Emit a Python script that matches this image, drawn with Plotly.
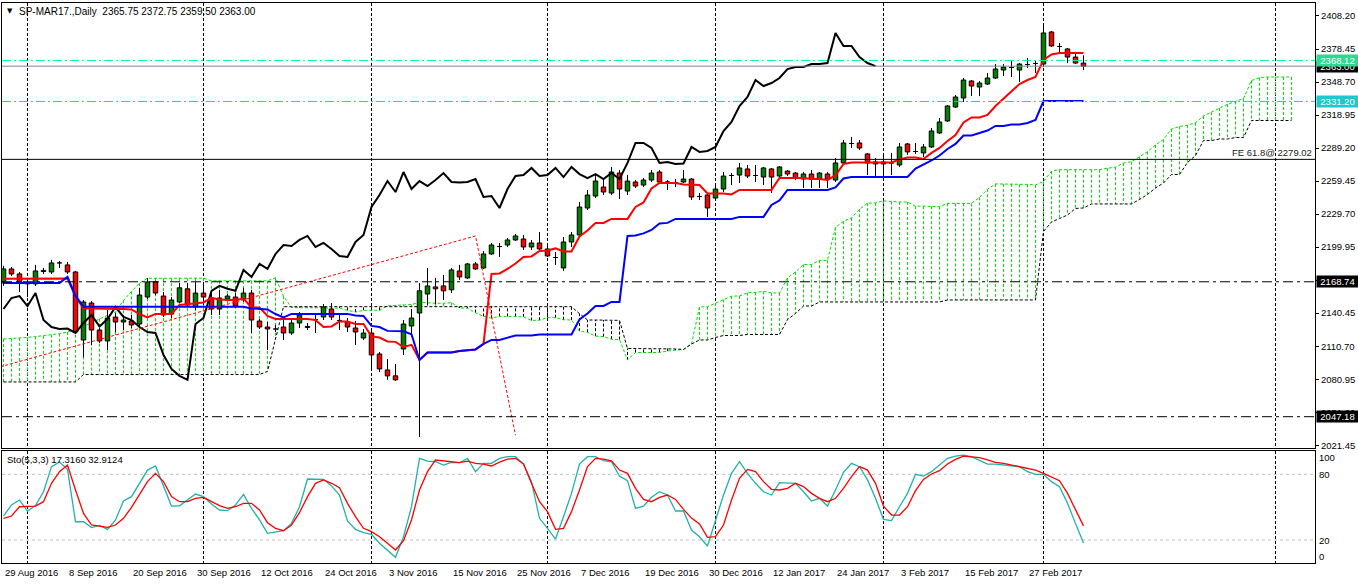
import plotly.graph_objects as go

# ---------------- data ----------------
symbol_title = "SP-MAR17.,Daily"
last_ohlc = ["2365.75", "2372.75", "2359.50", "2363.00"]

x_labels = ["29 Aug 2016", "8 Sep 2016", "20 Sep 2016", "30 Sep 2016", "12 Oct 2016",
            "24 Oct 2016", "3 Nov 2016", "15 Nov 2016", "25 Nov 2016", "7 Dec 2016",
            "19 Dec 2016", "30 Dec 2016", "12 Jan 2017", "24 Jan 2017", "3 Feb 2017",
            "15 Feb 2017", "27 Feb 2017"]
x_label_bars = [0, 8, 16, 24, 32, 40, 48, 56, 64, 72, 80, 88, 96, 104, 112, 120, 128]
month_bars = [3, 25, 46, 68, 89, 110, 130, 159]

price_ticks = [2021.45, 2051.20, 2080.95, 2110.70, 2140.45, 2170.20, 2199.95, 2229.70,
               2259.45, 2289.20, 2318.95, 2348.70, 2378.45, 2408.20]

opens = [2167.7, 2180.3, 2175.8, 2167.7, 2166.8, 2178.0, 2177.6, 2185.7, 2183.9, 2177.6,
         2116.3, 2149.6, 2125.3, 2115.4, 2137.0, 2132.5, 2133.4, 2130.7, 2155.0, 2168.6,
         2155.9, 2139.7, 2150.5, 2162.4, 2146.0, 2158.6, 2154.1, 2144.2, 2153.2, 2155.0,
         2153.2, 2158.6, 2133.4, 2128.0, 2126.2, 2128.0, 2122.6, 2131.6, 2127.6, 2134.7,
         2137.0, 2144.2, 2133.9, 2132.5, 2127.1, 2118.1, 2122.6, 2103.7, 2089.3, 2084.0,
         2108.2, 2128.9, 2140.6, 2157.7, 2164.1, 2165.0, 2161.5, 2178.5, 2172.2, 2184.8,
         2181.2, 2193.8, 2200.5, 2201.9, 2206.4, 2207.3, 2200.1, 2203.7, 2198.3, 2190.6,
         2181.2, 2204.6, 2210.9, 2235.2, 2246.0, 2254.1, 2248.7, 2266.7, 2250.5, 2258.6,
         2255.9, 2260.4, 2267.6, 2258.6, 2258.2, 2258.6, 2261.3, 2245.6, 2246.9, 2244.2,
         2252.3, 2264.5, 2264.9, 2270.4, 2264.5, 2263.1, 2270.4, 2264.0, 2268.5, 2266.7,
         2261.3, 2265.8, 2261.3, 2265.8, 2260.4, 2275.8, 2293.3, 2293.8, 2283.9, 2274.9,
         2276.7, 2275.8, 2274.0, 2292.9, 2286.1, 2284.8, 2290.2, 2302.8, 2313.6, 2326.2,
         2334.3, 2349.6, 2344.2, 2346.9, 2352.3, 2359.5, 2361.8, 2359.5, 2364.5, 2365.4,
         2364.9, 2393.8, 2380.7, 2378.5, 2371.2, 2365.75]
highs = [2183.0, 2182.1, 2177.6, 2170.4, 2183.9, 2181.2, 2188.4, 2187.5, 2186.6, 2178.5,
         2152.3, 2151.4, 2127.1, 2143.3, 2140.6, 2138.8, 2138.8, 2163.3, 2172.2, 2169.5,
         2159.5, 2155.0, 2167.7, 2167.7, 2168.6, 2168.6, 2159.5, 2161.5, 2157.7, 2158.6,
         2163.3, 2161.5, 2135.2, 2132.5, 2129.8, 2134.3, 2136.1, 2141.5, 2131.6, 2138.8,
         2148.7, 2149.6, 2140.6, 2136.1, 2133.4, 2126.2, 2125.3, 2105.5, 2099.1, 2094.7,
         2134.3, 2144.2, 2167.7, 2181.2, 2172.2, 2174.9, 2181.2, 2183.9, 2185.7, 2186.6,
         2196.5, 2203.7, 2203.7, 2208.2, 2211.8, 2210.9, 2206.4, 2213.6, 2203.7, 2195.6,
         2209.1, 2213.6, 2240.6, 2251.4, 2264.9, 2260.4, 2272.2, 2269.4, 2264.9, 2260.4,
         2262.2, 2269.4, 2269.4, 2260.4, 2261.3, 2269.4, 2262.2, 2248.7, 2248.7, 2255.9,
         2267.6, 2266.7, 2275.8, 2274.0, 2274.0, 2272.2, 2271.3, 2273.0, 2269.4, 2267.6,
         2267.6, 2269.4, 2267.6, 2267.6, 2280.3, 2296.5, 2299.2, 2296.5, 2284.8, 2280.3,
         2284.8, 2284.8, 2293.8, 2293.8, 2293.8, 2292.9, 2307.3, 2316.3, 2328.0, 2337.0,
         2352.3, 2350.5, 2349.6, 2356.8, 2364.9, 2364.9, 2367.6, 2365.8, 2370.3, 2368.5,
         2401.0, 2394.7, 2383.9, 2379.4, 2375.8, 2372.75]
lows = [2165.0, 2174.0, 2159.5, 2155.0, 2165.0, 2175.8, 2175.8, 2181.2, 2175.8, 2122.6,
        2100.9, 2111.8, 2113.6, 2107.3, 2123.5, 2125.3, 2127.1, 2128.0, 2153.2, 2156.8,
        2137.0, 2136.1, 2149.6, 2146.0, 2143.3, 2147.8, 2138.8, 2138.8, 2151.4, 2145.1,
        2150.5, 2122.6, 2126.2, 2107.3, 2123.5, 2116.3, 2120.8, 2127.1, 2125.3, 2122.6,
        2134.3, 2134.3, 2125.3, 2123.5, 2111.8, 2116.3, 2089.3, 2087.4, 2080.4, 2079.5,
        2102.8, 2119.0, 2028.9, 2147.8, 2148.7, 2152.3, 2158.6, 2170.4, 2171.3, 2179.4,
        2180.3, 2192.9, 2191.1, 2200.1, 2205.5, 2197.4, 2197.4, 2197.4, 2191.1, 2183.9,
        2178.5, 2200.1, 2208.2, 2233.4, 2244.2, 2246.9, 2246.9, 2243.3, 2246.9, 2253.2,
        2254.1, 2258.6, 2257.7, 2251.4, 2254.1, 2257.7, 2242.4, 2242.4, 2227.1, 2242.4,
        2249.6, 2255.9, 2257.7, 2262.2, 2258.6, 2255.9, 2248.7, 2262.2, 2264.0, 2260.4,
        2253.2, 2253.2, 2253.2, 2253.2, 2258.6, 2274.0, 2289.3, 2287.5, 2264.9, 2262.2,
        2263.1, 2264.9, 2272.2, 2283.0, 2283.9, 2281.2, 2289.3, 2302.0, 2312.7, 2325.5,
        2330.7, 2336.1, 2336.1, 2346.0, 2351.4, 2354.1, 2353.2, 2348.7, 2361.3, 2356.8,
        2362.2, 2380.3, 2375.8, 2365.8, 2364.9, 2359.5]
closes = [2180.3, 2175.8, 2168.6, 2166.8, 2178.5, 2179.0, 2185.7, 2185.3, 2177.6, 2123.5,
          2150.5, 2125.3, 2115.4, 2136.1, 2132.5, 2134.3, 2129.8, 2156.8, 2168.6, 2158.6,
          2138.8, 2152.3, 2163.3, 2147.8, 2158.6, 2155.0, 2144.2, 2154.1, 2155.9, 2146.9,
          2158.6, 2134.3, 2128.0, 2126.2, 2126.6, 2122.6, 2131.6, 2138.8, 2128.5, 2135.2,
          2146.0, 2137.0, 2134.3, 2128.0, 2123.5, 2122.6, 2102.8, 2090.2, 2084.0, 2080.4,
          2130.7, 2136.1, 2160.6, 2165.0, 2162.4, 2160.6, 2179.4, 2173.1, 2184.8, 2180.3,
          2193.8, 2201.9, 2201.0, 2206.4, 2210.0, 2200.1, 2203.7, 2198.3, 2192.0, 2191.1,
          2204.6, 2210.9, 2236.1, 2246.9, 2259.5, 2249.6, 2267.6, 2252.3, 2259.5, 2255.0,
          2260.4, 2266.7, 2258.6, 2258.2, 2258.6, 2261.3, 2245.1, 2246.0, 2235.2, 2252.3,
          2264.0, 2264.9, 2271.3, 2264.0, 2264.9, 2271.3, 2263.1, 2272.2, 2265.8, 2262.2,
          2265.8, 2261.3, 2266.7, 2261.3, 2275.8, 2293.8, 2293.8, 2289.3, 2275.8, 2276.7,
          2274.9, 2275.3, 2290.2, 2285.7, 2286.6, 2290.2, 2304.6, 2312.7, 2327.1, 2335.2,
          2350.5, 2345.1, 2347.8, 2352.3, 2360.4, 2362.2, 2362.2, 2364.9, 2364.9, 2365.8,
          2392.9, 2381.2, 2381.2, 2371.2, 2365.8, 2363.0]

tenkan = [2171.5, 2171.5, 2171.5, 2171.5, 2171.5, 2171.5, 2171.5, 2171.5, 2171.7, 2155.5,
          2144.7, 2144.7, 2144.7, 2144.7, 2144.7, 2144.2, 2143.8, 2139.7, 2136.6, 2139.8,
          2139.8, 2139.8, 2147.9, 2148.8, 2149.7, 2150.1, 2154.2, 2152.8, 2152.4, 2152.4,
          2153.7, 2145.6, 2145.6, 2138.0, 2135.3, 2135.3, 2135.3, 2135.3, 2135.3, 2134.4,
          2128.0, 2128.5, 2133.0, 2133.0, 2130.7, 2130.7, 2119.5, 2118.5, 2115.0, 2114.6,
          2110.0, 2111.9, 2098.3, 2105.0, 2105.0, 2105.0, 2105.0, 2106.4, 2107.3, 2107.8,
          2112.7, 2175.8, 2176.2, 2180.3, 2185.2, 2191.1, 2191.6, 2196.5, 2197.0, 2198.8,
          2196.1, 2196.1, 2209.6, 2215.0, 2221.7, 2221.7, 2225.4, 2225.4, 2225.4, 2236.2,
          2240.2, 2252.8, 2257.8, 2257.8, 2257.8, 2256.4, 2255.9, 2255.9, 2248.3, 2248.3,
          2248.3, 2247.4, 2251.5, 2251.5, 2251.5, 2251.5, 2251.5, 2262.3, 2262.3, 2262.3,
          2262.3, 2261.4, 2261.4, 2260.5, 2264.5, 2274.9, 2276.2, 2276.2, 2276.2, 2276.2,
          2276.2, 2276.2, 2278.9, 2280.7, 2280.7, 2279.4, 2284.8, 2289.3, 2295.6, 2301.0,
          2312.3, 2316.8, 2316.8, 2319.0, 2327.1, 2333.9, 2340.2, 2346.9, 2350.5, 2353.2,
          2368.6, 2373.5, 2374.9, 2374.9, 2374.9, 2374.9]
kijun = [2167.7, 2167.7, 2167.7, 2167.7, 2167.7, 2167.7, 2167.7, 2167.7, 2173.1, 2156.0,
         2146.3, 2146.3, 2146.3, 2146.3, 2146.3, 2146.3, 2146.3, 2146.3, 2146.3, 2146.3,
         2146.3, 2146.3, 2146.3, 2146.3, 2146.3, 2146.3, 2146.3, 2146.3, 2146.3, 2146.3,
         2146.3, 2144.7, 2144.2, 2143.8, 2139.7, 2136.6, 2139.8, 2139.8, 2139.8, 2139.8,
         2139.8, 2139.8, 2139.8, 2139.8, 2138.4, 2138.0, 2129.0, 2128.0, 2124.5, 2124.1,
         2124.1, 2121.4, 2098.3, 2105.1, 2105.1, 2105.1, 2105.1, 2106.4, 2107.3, 2107.8,
         2112.7, 2116.3, 2116.3, 2118.6, 2120.4, 2120.4, 2120.4, 2121.3, 2121.3, 2121.3,
         2121.3, 2121.3, 2134.8, 2140.2, 2146.9, 2146.9, 2150.6, 2150.6, 2210.0, 2210.5,
         2212.3, 2215.4, 2221.3, 2221.8, 2225.4, 2225.4, 2225.4, 2225.4, 2225.4, 2225.4,
         2225.4, 2225.4, 2227.2, 2227.2, 2227.2, 2227.2, 2238.0, 2242.0, 2251.5, 2251.5,
         2251.5, 2251.5, 2251.5, 2251.5, 2253.7, 2261.8, 2263.2, 2263.2, 2263.2, 2263.2,
         2263.2, 2263.2, 2263.2, 2263.2, 2270.8, 2274.4, 2278.0, 2282.5, 2288.4, 2292.9,
         2300.5, 2300.5, 2302.8, 2305.0, 2309.1, 2309.1, 2310.4, 2310.4, 2311.8, 2314.5,
         2331.6, 2331.6, 2331.6, 2331.6, 2331.6, 2331.6]
span_a = [2117.2, 2117.5, 2118.1, 2118.7, 2119.3, 2120.0, 2121.0, 2122.0, 2123.5, 2125.5,
          2128.5, 2132.0, 2135.5, 2138.5, 2141.5, 2152.0, 2160.0, 2167.5, 2171.9, 2172.0,
          2172.0, 2172.0, 2172.0, 2172.0, 2172.0, 2172.0, 2169.6, 2169.6, 2169.6, 2169.6,
          2169.6, 2169.6, 2169.6, 2169.6, 2172.4, 2155.75, 2145.5, 2145.5, 2145.5, 2145.5,
          2145.5, 2145.25, 2145.05, 2143.0, 2141.45, 2143.05, 2143.05, 2143.05, 2147.1, 2147.55,
          2148.0, 2148.2, 2150.25, 2149.55, 2149.35, 2149.35, 2150.0, 2145.15, 2144.9, 2140.9,
          2137.5, 2135.95, 2137.55, 2137.55, 2137.55, 2137.1, 2133.9, 2134.15, 2136.4, 2136.4,
          2134.55, 2134.35, 2124.25, 2123.25, 2119.75, 2119.35, 2117.05, 2116.65, 2098.3, 2105.05,
          2105.05, 2105.05, 2105.05, 2106.4, 2107.3, 2107.8, 2112.7, 2146.05, 2146.25, 2149.45,
          2152.8, 2155.75, 2156.0, 2158.9, 2159.15, 2160.05, 2158.7, 2158.7, 2172.2, 2177.6,
          2184.3, 2184.3, 2188.0, 2188.0, 2217.7, 2223.35, 2226.25, 2234.1, 2239.55, 2239.8,
          2241.6, 2240.9, 2240.65, 2240.65, 2236.85, 2236.85, 2236.85, 2236.4, 2239.35, 2239.35,
          2239.35, 2239.35, 2244.75, 2252.15, 2256.9, 2256.9, 2256.9, 2256.45, 2256.45, 2256.0,
          2259.1, 2268.35, 2269.7, 2269.7, 2269.7, 2269.7, 2269.7, 2269.7, 2271.05, 2271.95,
          2275.75, 2276.9, 2281.4, 2285.9, 2292.0, 2296.95, 2306.4, 2308.65, 2309.8, 2312.0,
          2318.1, 2321.5, 2325.3, 2328.65, 2331.15, 2333.85, 2350.1, 2352.55, 2353.25, 2353.25,
          2353.25, 2353.25]
span_b = [2078.5, 2078.5, 2078.5, 2078.5, 2078.5, 2078.5, 2078.5, 2078.5, 2078.5, 2078.5,
          2085.2, 2085.2, 2085.2, 2085.2, 2085.2, 2085.2, 2085.2, 2085.2, 2085.2, 2085.2,
          2085.2, 2085.2, 2085.2, 2085.2, 2085.2, 2085.2, 2085.2, 2085.2, 2085.2, 2085.2,
          2085.2, 2085.2, 2085.2, 2088.0, 2117.0, 2146.3, 2146.3, 2146.3, 2146.3, 2146.3,
          2146.3, 2146.3, 2146.3, 2146.3, 2146.3, 2146.3, 2146.3, 2146.3, 2146.3, 2146.3,
          2146.3, 2146.3, 2146.3, 2146.3, 2146.3, 2146.3, 2146.3, 2146.3, 2146.3, 2146.3,
          2146.3, 2146.3, 2146.3, 2146.3, 2146.3, 2146.3, 2146.3, 2146.3, 2146.3, 2146.3,
          2146.3, 2146.3, 2140.0, 2134.3, 2134.3, 2134.3, 2134.3, 2133.95, 2108.65, 2108.65,
          2108.65, 2108.65, 2108.65, 2108.65, 2108.2, 2107.75, 2112.7, 2116.3, 2116.3, 2118.55,
          2120.35, 2120.35, 2120.35, 2121.25, 2121.25, 2121.25, 2121.25, 2121.25, 2134.75, 2140.15,
          2146.9, 2146.9, 2150.55, 2150.55, 2150.55, 2150.55, 2150.55, 2150.55, 2150.55, 2150.55,
          2150.55, 2150.55, 2150.55, 2150.55, 2150.55, 2150.55, 2150.55, 2150.55, 2152.35, 2152.35,
          2152.35, 2152.35, 2152.35, 2152.35, 2152.35, 2152.35, 2152.35, 2152.35, 2152.35, 2152.35,
          2214.05, 2222.6, 2225.75, 2228.9, 2234.8, 2235.25, 2238.85, 2238.85, 2238.85, 2238.85,
          2238.85, 2238.85, 2242.9, 2247.4, 2253.25, 2257.75, 2265.4, 2265.4, 2276.2, 2282.5,
          2296.0, 2296.0, 2297.35, 2297.35, 2298.7, 2298.7, 2314.05, 2314.05, 2314.05, 2314.05,
          2314.05, 2314.05]
chikou_shift = 26

stoch_k = [41.9, 52.0, 56.5, 46.4, 51.4, 64.1, 87.0, 91.2, 84.5, 36.7,
           36.7, 31.3, 33.4, 29.7, 38.3, 55.6, 59.6, 72.4, 83.9, 87.6,
           68.7, 51.0, 51.3, 56.5, 62.0, 59.6, 52.9, 47.4, 46.8, 52.0,
           61.7, 48.9, 38.3, 26.1, 27.3, 28.5, 35.2, 50.4, 75.7, 75.4,
           75.4, 69.4, 61.1, 37.4, 29.7, 26.7, 25.2, 17.0, 10.3, 4.2,
           23.0, 50.4, 94.6, 92.1, 91.5, 88.5, 90.9, 90.6, 94.6, 82.4,
           90.0, 90.0, 94.6, 96.1, 96.1, 89.4, 73.3, 39.8, 30.7, 20.9,
           41.3, 62.6, 89.4, 96.1, 96.1, 92.4, 91.5, 78.5, 74.2, 48.9,
           51.0, 59.0, 64.1, 61.1, 46.5, 46.5, 29.1, 23.0, 14.5, 38.3,
           61.1, 80.9, 91.5, 80.9, 71.8, 64.1, 61.1, 72.4, 71.8, 71.8,
           64.1, 55.6, 58.1, 51.0, 65.7, 81.8, 90.0, 87.0, 74.9, 58.1,
           38.9, 37.7, 50.4, 62.6, 80.0, 78.4, 82.4, 88.5, 94.6, 96.7,
           97.6, 96.1, 92.4, 89.4, 89.4, 88.5, 87.5, 87.0, 82.4, 80.0,
           80.0, 73.3, 68.7, 53.5, 35.2, 17.316]
stoch_d = [39.8, 41.9, 50.4, 51.0, 51.0, 55.0, 71.8, 82.4, 88.5, 65.7,
           44.3, 33.7, 32.8, 31.6, 33.7, 39.8, 49.8, 61.1, 73.3, 80.9,
           73.3, 59.6, 55.0, 55.0, 58.1, 59.0, 55.0, 51.4, 48.9, 50.4,
           53.5, 53.5, 47.4, 35.8, 30.7, 28.5, 33.7, 45.0, 59.6, 71.8,
           74.9, 71.8, 67.8, 53.5, 41.3, 30.7, 27.6, 23.0, 17.0, 10.9,
           19.4, 38.3, 65.7, 82.4, 93.1, 92.1, 91.2, 90.6, 92.1, 90.0,
           89.4, 87.6, 91.2, 93.9, 94.6, 89.4, 71.8, 55.0, 45.9, 29.7,
           30.7, 45.9, 65.7, 87.0, 94.6, 93.9, 92.4, 83.9, 80.9, 67.2,
           57.0, 55.0, 59.0, 61.1, 57.1, 48.0, 40.0, 34.6, 22.4, 23.0,
           33.7, 56.5, 76.3, 84.5, 82.4, 73.3, 66.3, 65.7, 67.2, 71.8,
           68.8, 62.6, 58.1, 55.0, 58.1, 67.2, 77.9, 87.0, 83.9, 71.8,
           51.0, 42.8, 42.8, 50.4, 65.1, 75.4, 80.3, 83.3, 89.4, 93.6,
           96.7, 96.1, 95.2, 93.1, 91.0, 90.0, 88.5, 87.0, 85.4, 83.9,
           80.9, 77.9, 74.2, 62.6, 47.4, 32.9124]
stoch_levels = [20, 80]
stoch_label_vals = [100, 80, 20, 0]

fe_bars = [-1, 59, 64]
fe_prices = [2091.0, 2210.0, 2030.5]
fe_level = 2279.02
line_green = 2368.12
line_bid = 2363.00
line_cyan = 2331.20
line_black = [2168.74, 2047.18]

n = len(closes)
assert len(opens) == n and len(highs) == n and len(lows) == n
assert len(tenkan) == n and len(kijun) == n
assert len(stoch_k) == n and len(stoch_d) == n
assert len(span_a) == len(span_b) == n + chikou_shift

FONT = "Liberation Sans"
FS = 9.5

fig = go.Figure()

# ---- cloud hatch (vertical dotted lines every bar) ----
gx, gy, kx, ky = [], [], [], []
for j, (a, b) in enumerate(zip(span_a, span_b)):
    if a >= b:
        gx += [j, j, None]; gy += [a, b, None]
    else:
        kx += [j, j, None]; ky += [a, b, None]
fig.add_trace(go.Scatter(x=gx, y=gy, mode="lines", hoverinfo="skip",
                         line=dict(color="#00e000", width=1, dash="3px,2px")))
fig.add_trace(go.Scatter(x=kx, y=ky, mode="lines", hoverinfo="skip",
                         line=dict(color="#000000", width=1, dash="3px,2px")))
cx = list(range(len(span_a)))
fig.add_trace(go.Scatter(x=cx, y=span_a, mode="lines", hoverinfo="skip",
                         line=dict(color="#00e000", width=1, dash="3px,2px")))
fig.add_trace(go.Scatter(x=cx, y=span_b, mode="lines", hoverinfo="skip",
                         line=dict(color="#000000", width=1, dash="3px,2px")))

# ---- candles ----
wx, wy = [], []
for i in range(n):
    wx += [i, i, None]; wy += [lows[i], highs[i], None]
fig.add_trace(go.Scatter(x=wx, y=wy, mode="lines", hoverinfo="skip",
                         line=dict(color="black", width=1)))
half = 0.28
def bodies(up):
    xs, ys = [], []
    for i in range(n):
        o, c = opens[i], closes[i]
        if (c >= o) == up:
            xs += [i - half, i + half, i + half, i - half, i - half, None]
            ys += [o, o, c, c, o, None]
    return xs, ys
bx, by = bodies(True)
fig.add_trace(go.Scatter(x=bx, y=by, mode="lines", fill="toself", fillcolor="#008000",
                         hoverinfo="skip", line=dict(color="black", width=1)))
rx, ry = bodies(False)
fig.add_trace(go.Scatter(x=rx, y=ry, mode="lines", fill="toself", fillcolor="#ff0000",
                         hoverinfo="skip", line=dict(color="black", width=1)))

# ---- ichimoku lines ----
fig.add_trace(go.Scatter(x=[i - chikou_shift for i in range(chikou_shift, n)],
                         y=closes[chikou_shift:], mode="lines", hoverinfo="skip",
                         line=dict(color="black", width=2)))
fig.add_trace(go.Scatter(x=list(range(n)), y=tenkan, mode="lines", hoverinfo="skip",
                         line=dict(color="#ff0000", width=2)))
fig.add_trace(go.Scatter(x=list(range(n)), y=kijun, mode="lines", hoverinfo="skip",
                         line=dict(color="#0000ff", width=2)))
fig.add_trace(go.Scatter(x=fe_bars, y=fe_prices, mode="lines", hoverinfo="skip",
                         line=dict(color="#ff0000", width=1, dash="3px,2px")))

# ---- stochastic ----
fig.add_trace(go.Scatter(x=list(range(n)), y=stoch_k, mode="lines", hoverinfo="skip",
                         xaxis="x2", yaxis="y2", line=dict(color="#20b2aa", width=1.3)))
fig.add_trace(go.Scatter(x=list(range(n)), y=stoch_d, mode="lines", hoverinfo="skip",
                         xaxis="x2", yaxis="y2", line=dict(color="#ff0000", width=1.3)))

shapes = []
for lv in stoch_levels:
    shapes.append(dict(type="line", xref="paper", x0=0, x1=1, yref="y2", y0=lv, y1=lv,
                       layer="below", line=dict(color="#c0c0c0", width=1, dash="3px,3px")))
dd = "9px,3px,2px,3px"
shapes.append(dict(type="line", xref="paper", x0=0, x1=1, yref="y", y0=line_green, y1=line_green,
                   line=dict(color="#00fa9a", width=1, dash=dd)))
shapes.append(dict(type="line", xref="paper", x0=0, x1=1, yref="y", y0=line_bid, y1=line_bid,
                   line=dict(color="#778899", width=1)))
shapes.append(dict(type="line", xref="paper", x0=0, x1=1, yref="y", y0=line_cyan, y1=line_cyan,
                   line=dict(color="#1ec8cc", width=1, dash=dd)))
shapes.append(dict(type="line", xref="paper", x0=0, x1=1, yref="y", y0=fe_level, y1=fe_level,
                   line=dict(color="black", width=1)))
for lv in line_black:
    shapes.append(dict(type="line", xref="paper", x0=0, x1=1, yref="y", y0=lv, y1=lv,
                       line=dict(color="black", width=1, dash="10px,4px,3px,4px")))

ann = []
tf = dict(family=FONT, size=FS, color="black")
# header
ann.append(dict(text="▼", xref="paper", yref="paper", x=0, y=1, xanchor="left", yanchor="top",
                xshift=3, yshift=-2, showarrow=False, font=dict(family="DejaVu Sans", size=7, color="black")))
ann.append(dict(text=symbol_title + "\u00a0\u00a0" + " ".join(last_ohlc), xref="paper", yref="paper",
                x=0, y=1, xanchor="left", yanchor="top", xshift=15, yshift=-1, showarrow=False,
                font=dict(family=FONT, size=10, color="black")))
# stochastic label
ann.append(dict(text="Sto(5,3,3) %.4f %.4f" % (stoch_k[-1], stoch_d[-1]), xref="paper", yref="paper",
                x=0, y=0.2, xanchor="left", yanchor="top", xshift=3, yshift=-1, showarrow=False, font=tf))
# FE label
ann.append(dict(text="FE 61.8@ %.2f" % fe_level, xref="paper", yref="y", x=1, y=fe_level,
                xanchor="right", yanchor="bottom", xshift=-1, yshift=-1, showarrow=False,
                font=dict(family=FONT, size=FS, color="#202020")))
# price boxes
def box(val, bg):
    return dict(text="%.2f" % val, xref="paper", yref="y", x=1, y=val, xanchor="left",
                yanchor="middle", xshift=1, showarrow=False, bgcolor=bg, borderpad=0,
                width=41, height=11, align="center", font=dict(family=FONT, size=FS, color="white"))
ann.append(box(line_bid, "#000000"))
ann.append(box(line_green, "#2ed890"))
ann.append(box(line_cyan, "#1ec8cc"))
for lv in line_black:
    ann.append(box(lv, "#000000"))
# stochastic axis labels
stoch_shift = {100: -5, 80: 0, 20: 0, 0: 5}
for v in stoch_label_vals:
    ann.append(dict(text=str(v), xref="paper", yref="y2", x=1, y=v, xanchor="left", yanchor="middle",
                    xshift=2, yshift=stoch_shift[v], showarrow=False, font=tf))
# date labels
for b, t in zip(x_label_bars, x_labels):
    ann.append(dict(text=t, xref="x2", yref="paper", x=b, y=0, xanchor="left", yanchor="top",
                    xshift=-1, yshift=-2, showarrow=False, font=tf))

xr = [-0.1875, 163.9375]
common_x = dict(range=xr, tickvals=month_bars, showticklabels=False, ticks="", showgrid=True,
                gridcolor="black", gridwidth=1, griddash="3px,2px", zeroline=False,
                showline=True, mirror=True, linecolor="black", linewidth=1)
fig.update_layout(
    width=1358, height=584, margin=dict(l=2, r=43, t=3, b=21),
    paper_bgcolor="white", plot_bgcolor="white", showlegend=False,
    xaxis=dict(domain=[0, 1], anchor="y", **common_x),
    xaxis2=dict(domain=[0, 1], anchor="y2", **common_x),
    yaxis=dict(domain=[0.2054, 1], range=[2019.0, 2419.9], side="right", anchor="x",
               tickvals=price_ticks, ticktext=["%.2f" % v for v in price_ticks],
               ticks="outside", ticklen=3, tickcolor="black", tickfont=tf,
               showgrid=False, zeroline=False, showline=True, mirror=True,
               linecolor="black", linewidth=1),
    yaxis2=dict(domain=[0, 0.2], range=[-1.0, 101.3], side="right", anchor="x2",
                showticklabels=False, ticks="", showgrid=False, zeroline=False,
                showline=True, mirror=True, linecolor="black", linewidth=1),
    shapes=shapes, annotations=ann,
)

fig.write_html("out.html", config={"displayModeBar": False},
               post_script="document.body.style.margin='0px';")
